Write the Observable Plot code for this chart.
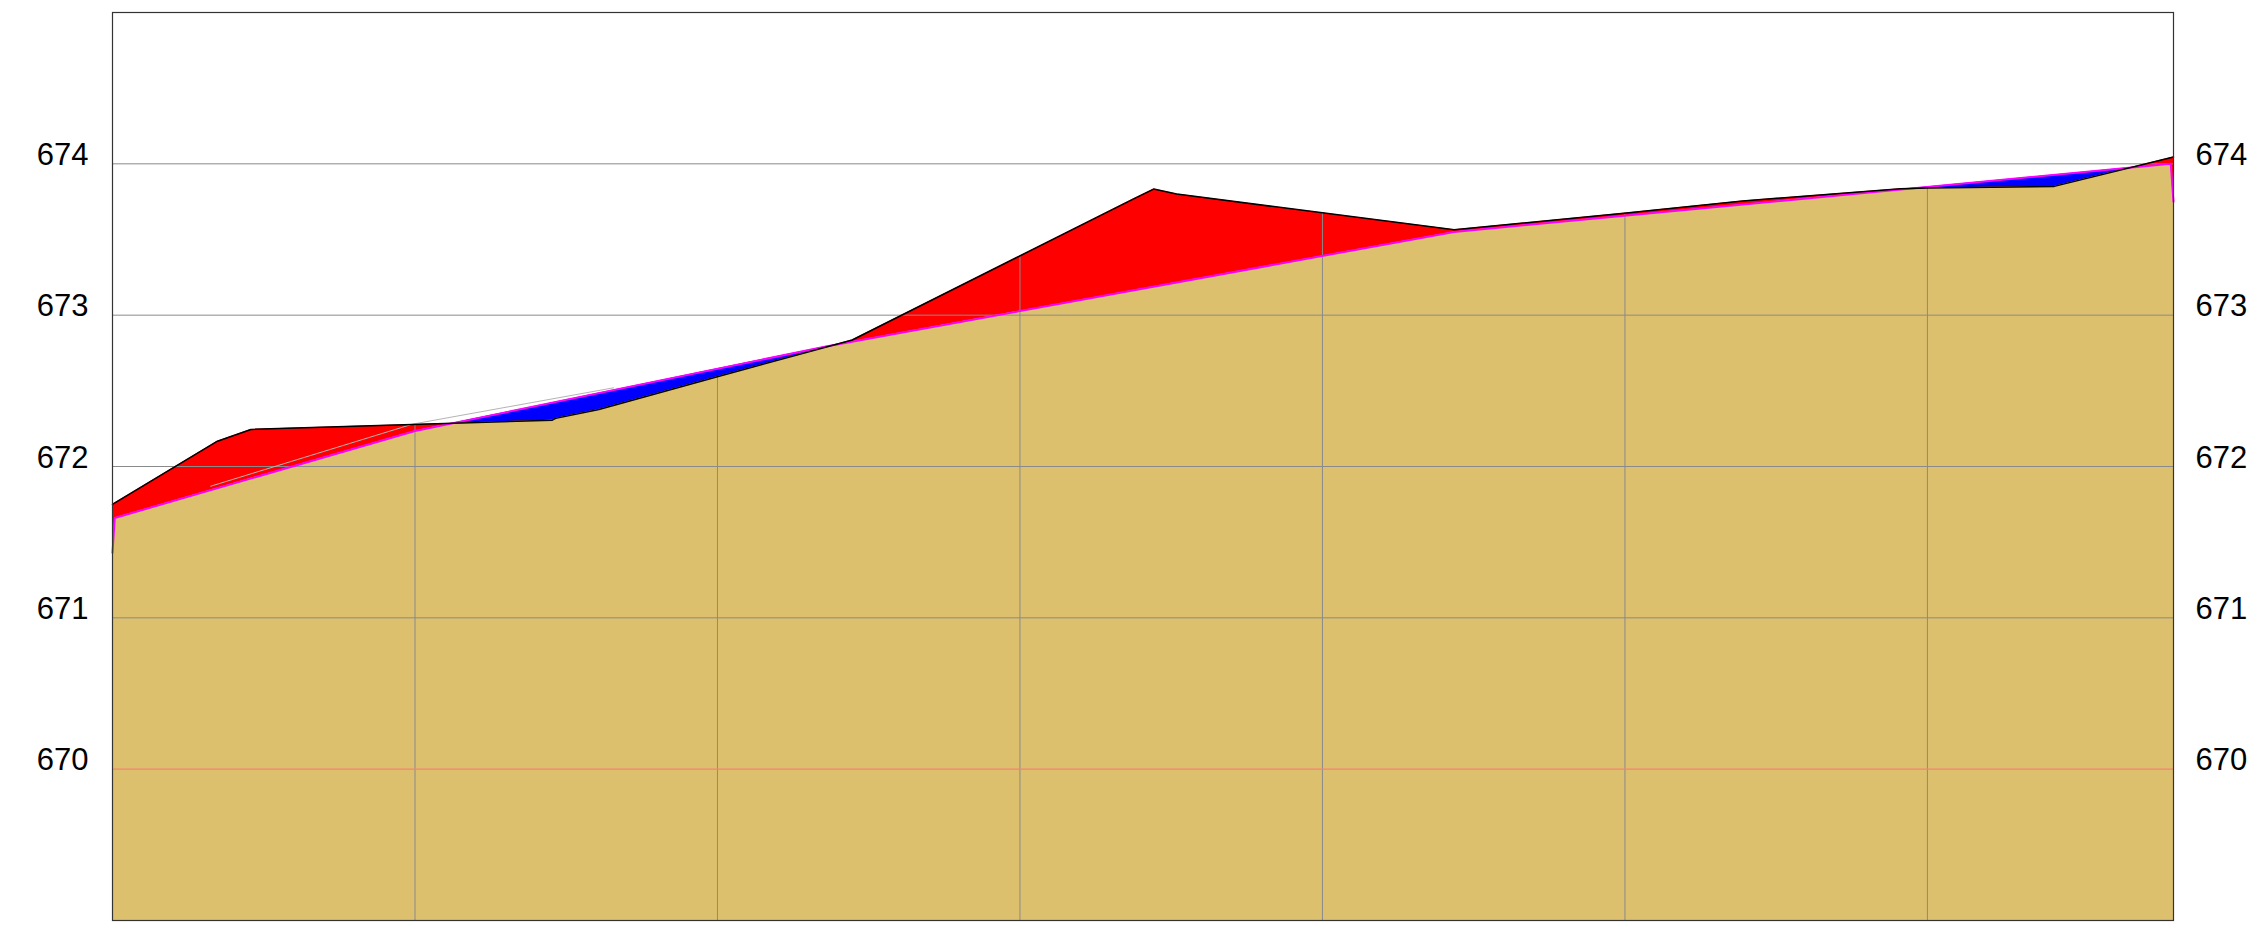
<!DOCTYPE html>
<html>
<head>
<meta charset="utf-8">
<script src="https://cdn.jsdelivr.net/npm/d3@7"></script>
<script src="https://cdn.jsdelivr.net/npm/@observablehq/plot@0.6"></script>
<style>
  html, body { margin: 0; padding: 0; background: #fff; overflow: hidden; }
  #chart svg { display: block; }
</style>
</head>
<body>
<div id="chart"></div>
<script>
// Existing ground (black line) – chainage (m) and elevation (m)
const terrainX = [0, 6.94, 9.15, 19.84, 29.08, 29.30, 32.16, 39.99, 48.91, 67.49, 68.84, 70.36, 88.71, 99.94, 107.79, 118.24, 120.0, 128.38, 136.27];
const terrainY = [671.75, 672.167, 672.245, 672.278, 672.306, 672.318, 672.377, 672.593, 672.836, 673.767, 673.833, 673.80, 673.564, 673.674, 673.755, 673.835, 673.84, 673.851, 674.045];

// Design grade line (magenta)
const designX = [0, 0.15, 20.0, 47.26, 88.7, 136.09, 136.27];
const designY = [671.43, 671.66, 672.235, 672.795, 673.55, 674.0, 673.75];

// Thin grey auxiliary line
const auxX = [6.5, 19.84, 33.13];
const auxY = [671.87, 672.28, 672.52];

// Grid / ticks
const gridX = [20, 40, 60, 80, 100, 120];
const gridY = [670, 671, 672, 673, 674];
const yTickLabels = ["670", "671", "672", "673", "674"];
const baseElev = 669;

const terrain = terrainX.map((x, i) => ({x, y: terrainY[i]}));
const design = designX.map((x, i) => ({x, y: designY[i]}));
const aux = auxX.map((x, i) => ({x, y: auxY[i]}));
const ticks = gridY.map((y, i) => ({y, label: yTickLabels[i]}));

const TAN = "#dcc06e";
const font = "'Liberation Sans', Arial, sans-serif";

const svg = Plot.plot({
  width: 2248,
  height: 925,
  marginLeft: 112,
  marginRight: 75,
  marginTop: 12,
  marginBottom: 5,
  x: {domain: [0, 136.27], axis: null},
  y: {domain: [669, 675], axis: null},
  style: {background: "white", fontFamily: font},
  marks: [
    // area #0: blue (below design)
    Plot.areaY(design, {x: "x", y1: () => baseElev, y2: "y", fill: "#0000ff"}),
    // area #1: red (below existing ground)
    Plot.areaY(terrain, {x: "x", y1: () => baseElev, y2: "y", fill: "#ff0000"}),
    // area #2: tan ground (below design, later clipped to below existing ground)
    Plot.areaY(design, {x: "x", y1: () => baseElev, y2: "y", fill: TAN}),
    // rule #0: vertical grid (clipped to below existing ground)
    Plot.ruleX(gridX, {stroke: "#8a8a8a", strokeWidth: 1}),
    // rule #1: horizontal grid
    Plot.ruleY(gridY, {stroke: d => d === 670 ? "#fa8072" : "#8a8a8a", strokeWidth: d => d === 670 ? 1.4 : 1}),
    Plot.line(aux, {x: "x", y: "y", stroke: "#b4b4b4", strokeWidth: 1}),
    Plot.line(design, {x: "x", y: "y", stroke: "#ff00ff", strokeWidth: 2}),
    Plot.line(terrain, {x: "x", y: "y", stroke: "#000000", strokeWidth: 1.5}),
    Plot.frame({stroke: "#333", strokeWidth: 1.2}),
    Plot.text(ticks, {y: "y", text: "label", frameAnchor: "left", textAnchor: "end", dx: -24, dy: 1, lineAnchor: "bottom", fontSize: 31, fill: "#000"}),
    Plot.text(ticks, {y: "y", text: "label", frameAnchor: "right", textAnchor: "start", dx: 22, dy: 1, lineAnchor: "bottom", fontSize: 31, fill: "#000"})
  ]
});

// Clip the ground fill and the vertical gridlines to the area below the existing ground line
const ns = "http://www.w3.org/2000/svg";
const areas = svg.querySelectorAll('g[aria-label="area"]');
const rules = svg.querySelectorAll('g[aria-label="rule"]');
const redPath = areas[1] && areas[1].querySelector("path");
if (redPath) {
  const defs = document.createElementNS(ns, "defs");
  const cp = document.createElementNS(ns, "clipPath");
  cp.setAttribute("id", "terrain-clip");
  const p = document.createElementNS(ns, "path");
  p.setAttribute("d", redPath.getAttribute("d"));
  cp.appendChild(p);
  defs.appendChild(cp);
  svg.insertBefore(defs, svg.firstChild);
  if (areas[2]) areas[2].setAttribute("clip-path", "url(#terrain-clip)");
  if (rules[0]) {
    const wrap = document.createElementNS(ns, "g");
    wrap.setAttribute("clip-path", "url(#terrain-clip)");
    rules[0].parentNode.insertBefore(wrap, rules[0]);
    wrap.appendChild(rules[0]);
  }
}

document.getElementById("chart").appendChild(svg);
</script>
</body>
</html>
